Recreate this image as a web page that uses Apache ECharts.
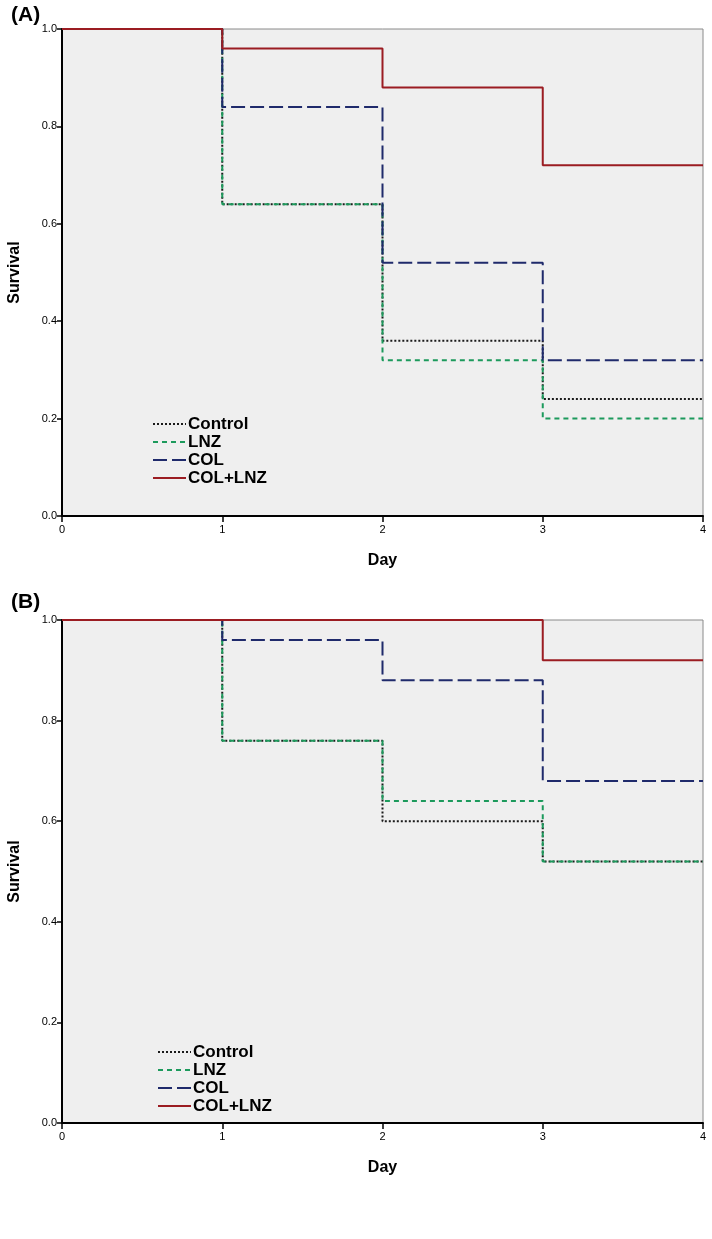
<!DOCTYPE html>
<html>
<head>
<meta charset="utf-8">
<script src="https://cdn.jsdelivr.net/npm/echarts@6/dist/echarts.min.js"></script>
<style>html,body{margin:0;padding:0;background:#fff;}#c{width:712px;height:1239px;}</style>
</head>
<body>
<div id="c"></div>
<script>
var days = [0, 1, 2, 3, 4];
var seriesNames = ['Control', 'LNZ', 'COL', 'COL+LNZ'];
var yTicks = [0, 0.2, 0.4, 0.6, 0.8, 1.0];
var panelLabels = ['(A)', '(B)'];

var A_control = [1.0, 0.64, 0.36, 0.24, 0.24];
var A_lnz     = [1.0, 0.64, 0.32, 0.20, 0.20];
var A_col     = [1.0, 0.84, 0.52, 0.32, 0.32];
var A_colLnz  = [1.0, 0.96, 0.88, 0.72, 0.72];

var B_control = [1.0, 0.76, 0.60, 0.52, 0.52];
var B_lnz     = [1.0, 0.76, 0.64, 0.52, 0.52];
var B_col     = [1.0, 0.96, 0.88, 0.68, 0.68];
var B_colLnz  = [1.0, 1.0, 1.0, 0.92, 0.92];

var styles = [
  {color: '#1a1a1a', type: [2, 2]},
  {color: '#1c9a5c', type: [5, 4]},
  {color: '#1f2a6b', type: [14, 5]},
  {color: '#9b1c22', type: 'solid'}
];

function pairs(vals) { return days.map(function (d, i) { return [d, vals[i]]; }); }

var grids = [
  {left: 62, right: 9, top: 29, height: 487},
  {left: 62, right: 9, top: 620, height: 503}
];
grids.forEach(function (g) {
  g.show = true; g.backgroundColor = '#efefef'; g.borderColor = '#8a8a8a'; g.borderWidth = 1;
  g.containLabel = false; g.outerBoundsMode = 'none';
});

function xAx(i) {
  return {
    type: 'value', gridIndex: i, min: 0, max: 4, interval: 1,
    name: 'Day', nameLocation: 'middle', nameGap: 37,
    nameTextStyle: {fontFamily: 'Liberation Sans', fontWeight: 'bold', fontSize: 16, color: '#000'},
    axisLine: {lineStyle: {color: '#000', width: 2}},
    axisTick: {length: 6, lineStyle: {color: '#000', width: 1.5}},
    axisLabel: {fontFamily: 'Liberation Sans', fontSize: 11, color: '#000', margin: 8},
    splitLine: {show: false}
  };
}
function yAx(i) {
  return {
    type: 'value', gridIndex: i, min: 0, max: 1, interval: 0.2,
    name: 'Survival', nameLocation: 'middle', nameGap: 39, nameRotate: 90,
    nameTextStyle: {fontFamily: 'Liberation Sans', fontWeight: 'bold', fontSize: 16, color: '#000'},
    axisLine: {lineStyle: {color: '#000', width: 2}},
    axisTick: {length: 5, lineStyle: {color: '#000', width: 1.5}},
    axisLabel: {fontFamily: 'Liberation Sans', fontSize: 11, color: '#000', margin: 5,
      formatter: function (v) { return v.toFixed(1); }},
    splitLine: {show: false}
  };
}

var panelData = [
  [A_control, A_lnz, A_col, A_colLnz],
  [B_control, B_lnz, B_col, B_colLnz]
];

var series = [];
panelData.forEach(function (set, p) {
  set.forEach(function (vals, k) {
    series.push({
      name: seriesNames[k], type: 'line', xAxisIndex: p, yAxisIndex: p,
      step: 'end', symbol: 'none', silent: true, animation: false,
      data: pairs(vals),
      lineStyle: {color: styles[k].color, type: styles[k].type, width: 2},
      itemStyle: {color: styles[k].color},
      z: 3 + k
    });
  });
});

var legendCommon = {
  orient: 'vertical', itemWidth: 33, itemHeight: 14, itemGap: 0,
  itemStyle: {opacity: 0},
  textStyle: {fontFamily: 'Liberation Sans', fontWeight: 'bold', fontSize: 17, lineHeight: 18, color: '#000', padding: [0, 0, 0, -3]},
  data: seriesNames, selectedMode: false
};

var option = {
  animation: false,
  title: [
    {text: panelLabels[0], left: 6, top: 0, textStyle: {fontFamily: 'Liberation Sans', fontWeight: 'bold', fontSize: 21, color: '#000'}},
    {text: panelLabels[1], left: 6, top: 587, textStyle: {fontFamily: 'Liberation Sans', fontWeight: 'bold', fontSize: 21, color: '#000'}}
  ],
  legend: [
    Object.assign({}, legendCommon, {left: 147, top: 410}),
    Object.assign({}, legendCommon, {left: 152, top: 1038})
  ],
  grid: grids,
  xAxis: [xAx(0), xAx(1)],
  yAxis: [yAx(0), yAx(1)],
  series: series
};

var chart = echarts.init(document.getElementById('c'), null, {renderer: 'canvas'});
chart.setOption(option);
</script>
</body>
</html>
